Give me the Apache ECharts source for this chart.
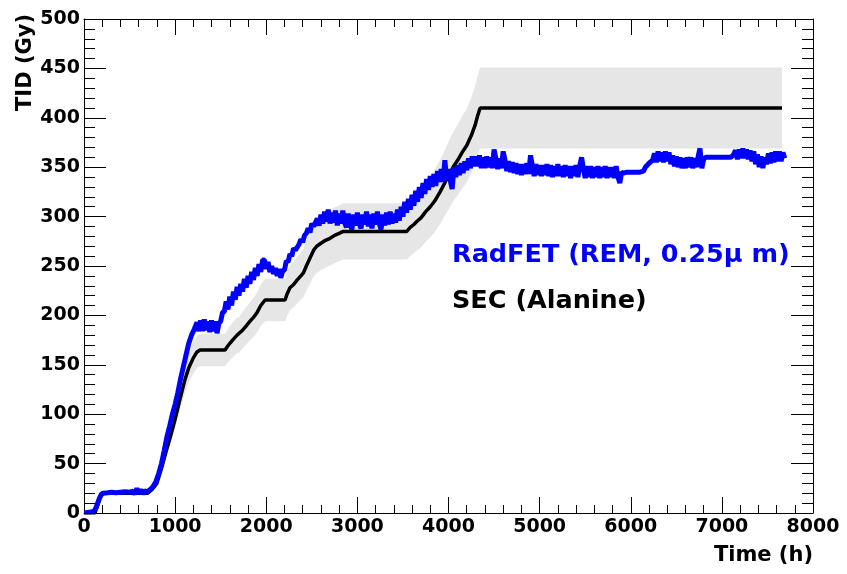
<!DOCTYPE html>
<html>
<head>
<meta charset="utf-8">
<script src="https://cdn.jsdelivr.net/npm/echarts@6/dist/echarts.min.js"></script>
<style>html,body{margin:0;padding:0;background:#fff;}#c{width:847px;height:574px;}</style>
</head>
<body>
<div id="c"></div>
<script>
// ---- data ----
const X_MIN = 0, X_MAX = 8000, X_INTERVAL = 1000;
const Y_MIN = 0, Y_MAX = 500, Y_INTERVAL = 50;
const X_TITLE = 'Time (h)';
const Y_TITLE = 'TID (Gy)';
const RADFET_LABEL = 'RadFET (REM, 0.25\u03bc m)';
const SEC_LABEL = 'SEC (Alanine)';
const SEC_REL_ERR = 0.10; // half-width of the grey band, relative

// SEC (Alanine) [time h, dose Gy]
const SEC = [
 [0,0],[120,0],[150,8],[180,16],[210,20],[700,20],[750,24],[800,30],[850,45],[900,62],[950,78],
 [1000,95],[1050,114],[1108,135],[1150,147],[1200,157],[1240,163],[1273,165],[1548,165],[1570,168],
 [1603,172],[1640,176],[1680,180],[1700,180],[1740,185],[1786,190],[1820,194],[1860,198],[1900,203],
 [1940,210],[1987,215.6],[2206,215.6],[2230,222],[2260,228],[2298,231],[2340,236],[2380,240],[2408,243],
 [2440,250],[2480,258],[2520,266],[2554,270],[2600,273],[2650,276],[2700,278],[2750,281],[2800,283],
 [2846,285],[3542,285],[3580,289],[3620,292],[3652,295],[3700,299],[3750,305],[3800,310],[3850,316],
 [3908,325],[3981,338],[4050,350],[4100,357],[4150,365],[4200,372],[4250,382],[4290,392],[4320,402],
 [4347,410],[7660,410]
];

// RadFET (REM, 0.25 um) [time h, dose Gy]
const RADFET = [
 [0,0],[40,0.5],[80,1],[110,2],[130,5],[150,10],[170,15],[190,19],[210,20],[260,20.5],[300,21],[350,20.5],
 [400,21],[450,21.5],[500,21],[540,22],[560,19],[580,25],[600,20],[620,24],[640,19],[660,23],[680,21],
 [700,22],[730,24],[760,27],[790,32],[820,40],[850,50],[880,63],[910,77],[940,88],[970,100],[1000,110],
 [1030,122],[1060,136],[1090,148],[1120,160],[1150,172],[1180,180],[1210,186],
 [1240,193],[1260,184],[1280,195],[1300,184],[1320,196],[1340,185],[1360,194],[1380,183],[1400,195],
 [1420,184],[1440,194],[1460,182],[1480,192],[1500,194],
 [1520,203],[1540,204],[1560,214],[1580,206],[1600,219],[1620,210],[1640,224],[1660,216],[1680,229],
 [1700,220],[1720,232],[1740,224],[1760,237],[1780,228],[1800,240],[1820,232],[1840,244],[1860,236],
 [1880,248],[1900,240],[1920,252],[1940,244],[1960,256],[1980,256],[2000,247],[2020,254],[2040,244],
 [2060,250],[2080,242],[2100,248],[2120,240],[2140,247],[2160,238],[2180,245],[2200,246],[2220,255],
 [2240,254],[2260,262],[2280,260],[2300,268],[2320,266],[2340,269],[2360,272],[2380,277],[2400,274],
 [2420,281],[2440,283],[2460,288],[2480,284],[2500,293],[2520,290],[2540,294],
 [2560,298],[2580,291],[2600,302],[2620,293],[2640,305],[2660,295],[2680,307],[2700,293],[2720,304],
 [2740,294],[2760,306],[2780,291],[2800,303],[2820,293],[2840,306],[2860,294],[2880,289],[2900,303],
 [2920,292],[2940,287],[2960,302],[2980,291],[3000,304],[3020,293],[3040,288],[3060,302],[3080,292],
 [3100,305],[3120,290],[3140,302],[3160,288],[3180,303],[3200,292],[3220,305],[3240,293],[3260,287],
 [3280,302],[3300,291],[3320,304],[3340,292],[3360,305],[3380,293],[3400,303],[3420,294],[3440,307],
 [3460,296],
 [3480,310],[3500,300],[3520,315],[3540,304],[3560,318],[3580,307],[3600,322],[3620,311],[3640,326],
 [3660,315],[3680,330],[3700,319],[3720,334],[3740,323],[3760,338],[3780,327],[3800,341],[3820,330],
 [3840,343],[3860,331],[3880,346],[3900,335],[3920,348],[3940,335],[3960,357],[3980,337],
 [4000,348],[4020,336],[4040,328],[4060,350],[4080,340],[4100,352],[4120,342],[4140,354],[4160,344],
 [4180,356],[4200,347],[4220,359],[4240,349],[4260,361],[4280,351],
 [4300,361],[4320,351],[4340,362],[4360,349],[4380,360],[4400,349],[4420,361],[4440,350],[4460,360],
 [4480,349],[4500,368],[4520,359],[4540,348],[4560,359],[4580,349],[4600,366],[4620,357],[4640,346],
 [4660,356],[4680,345],[4700,355],[4720,344],[4740,354],[4760,343],[4780,353],[4800,342],[4820,353],
 [4840,343],[4860,354],[4880,343],[4900,362],[4920,352],[4940,341],[4960,353],[4980,342],[5000,352],
 [5020,341],[5040,352],[5060,342],[5080,353],[5100,341],[5120,352],[5140,340],[5160,351],[5180,341],
 [5200,353],[5220,341],[5240,351],[5260,340],[5280,352],[5300,341],[5320,351],[5340,339],[5360,351],
 [5380,341],[5400,352],[5420,340],[5440,351],[5460,360],[5480,349],[5500,339],[5520,351],[5540,340],
 [5560,351],[5580,339],[5600,350],[5620,340],[5640,351],[5660,339],[5680,350],[5700,340],[5720,351],
 [5740,339],[5760,350],[5780,340],[5800,350],[5820,339],[5840,351],[5860,340],[5880,334],
 [5900,345],[5920,344],[5960,345],[6000,345],[6050,345],[6100,345],[6140,346],[6160,350],[6200,354],
 [6240,357],
 [6260,364],[6280,355],[6300,366],[6320,356],[6340,365],[6360,355],[6380,366],[6400,356],[6420,365],
 [6440,353],[6460,362],[6480,351],[6500,361],[6520,350],[6540,360],[6560,349],[6580,359],[6600,349],
 [6620,360],[6640,350],[6660,360],[6680,349],[6700,359],[6720,350],[6740,361],[6760,369],[6780,349],
 [6800,358],[6820,360],[6850,360],[6900,360],[6950,360],[7000,360],[7050,360],[7100,360],
 [7130,363],[7150,367],[7170,358],[7190,368],[7210,359],[7230,369],[7250,359],[7270,368],[7290,358],
 [7310,367],[7330,356],[7350,366],[7370,353],[7390,363],[7410,350],[7430,361],[7450,349],[7470,360],
 [7490,353],[7510,364],[7530,354],[7550,365],[7570,355],[7590,366],[7610,356],[7630,366],[7650,356],
 [7670,365],[7690,359]
];

const FONT = 'DejaVu Sans';
const chart = echarts.init(document.getElementById('c'), null, {renderer: 'canvas'});

function axisCommon(showLabels, tickLen, minorLen, splitNum, margin) {
  return {
    axisLine: {show: true, onZero: false, lineStyle: {color: '#000', width: 1}},
    axisTick: {show: true, inside: true, length: tickLen, lineStyle: {color: '#000', width: 1}},
    minorTick: {show: true, splitNumber: splitNum, length: minorLen, lineStyle: {color: '#000', width: 1}},
    splitLine: {show: false},
    axisLabel: {show: showLabels, margin: margin, color: '#000', fontFamily: FONT, fontWeight: 'bold', fontSize: 19,
      formatter: v => String(v)}
  };
}

// grey uncertainty band around the SEC curve, drawn through the axis scales
function renderBand(params, api) {
  const upper = SEC.map(p => api.coord([p[0], p[1] * (1 + SEC_REL_ERR)]));
  const lower = SEC.map(p => api.coord([p[0], p[1] * (1 - SEC_REL_ERR)])).reverse();
  return {
    type: 'polygon',
    shape: {points: upper.concat(lower)},
    style: {fill: '#e6e6e6', stroke: null}
  };
}

// noisy RadFET trace drawn as one raw polyline (no point thinning)
function renderRadfet(params, api) {
  return {
    type: 'polyline',
    shape: {points: RADFET.map(p => api.coord(p))},
    style: {stroke: '#0000ff', lineWidth: 5, fill: null, lineJoin: 'bevel'}
  };
}

const option = {
  animation: false,
  backgroundColor: '#fff',
  grid: {left: 84, right: 34, top: 19, bottom: 61, containLabel: false, outerBoundsMode: 'none'},
  xAxis: [
    Object.assign({type: 'value', position: 'bottom', min: X_MIN, max: X_MAX, interval: X_INTERVAL},
      axisCommon(true, 16, 8, 5, 5)),
    Object.assign({type: 'value', position: 'top', min: X_MIN, max: X_MAX, interval: X_INTERVAL},
      axisCommon(false, 16, 8, 5, 5))
  ],
  yAxis: [
    Object.assign({type: 'value', position: 'left', min: Y_MIN, max: Y_MAX, interval: Y_INTERVAL},
      axisCommon(true, 22, 11, 5, 4)),
    Object.assign({type: 'value', position: 'right', min: Y_MIN, max: Y_MAX, interval: Y_INTERVAL},
      axisCommon(false, 22, 11, 5, 4))
  ],
  series: [
    {type: 'custom', name: 'band', coordinateSystem: 'cartesian2d', data: [[0, 0]],
     renderItem: renderBand, silent: true, clip: true, z: 1},
    {type: 'line', name: SEC_LABEL, data: SEC, symbol: 'none',
     lineStyle: {color: '#000', width: 3.5}, z: 3},
    {type: 'custom', name: RADFET_LABEL, coordinateSystem: 'cartesian2d', data: [[0, 0]],
     renderItem: renderRadfet, silent: true, clip: true, z: 4}
  ],
  graphic: [
    {type: 'text', z: 100, x: 813, y: 556, style: {text: X_TITLE, font: 'bold 21px "DejaVu Sans"', fill: '#000', align: 'right', verticalAlign: 'middle'}},
    {type: 'text', z: 100, x: 26, y: 14, rotation: Math.PI / 2, style: {text: Y_TITLE, font: 'bold 21px "DejaVu Sans"', fill: '#000', align: 'right', verticalAlign: 'middle'}},
    {type: 'text', z: 100, x: 452, y: 255, style: {text: RADFET_LABEL, font: 'bold 25.5px "DejaVu Sans"', fill: '#0000ff', align: 'left', verticalAlign: 'middle'}},
    {type: 'text', z: 100, x: 452, y: 301, style: {text: SEC_LABEL, font: 'bold 25.5px "DejaVu Sans"', fill: '#000', align: 'left', verticalAlign: 'middle'}}
  ]
};
chart.setOption(option);
</script>
</body>
</html>
